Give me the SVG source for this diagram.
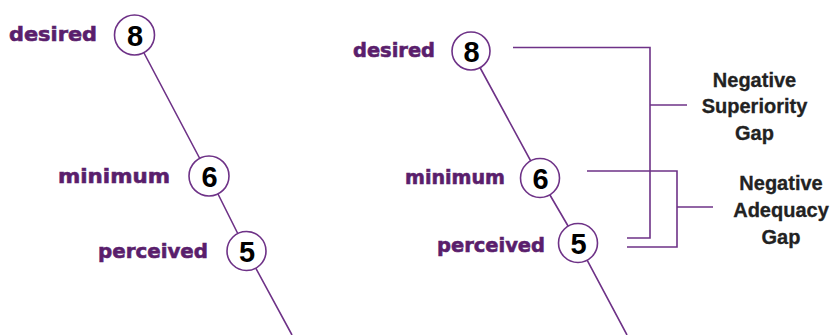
<svg xmlns="http://www.w3.org/2000/svg" width="833" height="335" viewBox="0 0 833 335">
<style>
.lbl{font-family:"DejaVu Sans",Verdana,sans-serif;font-weight:bold;font-size:20px;fill:#5a1e6c;stroke:#5a1e6c;stroke-width:0.6;text-anchor:end}
.num{font-family:"Liberation Sans",Arial,sans-serif;font-weight:bold;font-size:29px;fill:#000;text-anchor:middle}
.gap{font-family:"Liberation Sans",Arial,sans-serif;font-weight:bold;font-size:20px;fill:#222;stroke:#222;stroke-width:0.3;text-anchor:middle}
.ln{stroke:#6e3287;stroke-width:1.6;fill:none}
.cir{fill:#fff;stroke:#6e3287;stroke-width:1.6}
</style>
<g id="connectors">
<polyline class="ln" points="134.5,35 209,176 246.5,251 292,335"/>
<polyline class="ln" points="471,51 540,178 578,243 627,335"/>
<polyline class="ln" points="513,47.5 650,47.5 650,238 627,238"/>
<line class="ln" x1="650" y1="105" x2="687" y2="105"/>
<polyline class="ln" points="587,171 677,171 677,247 627,247"/>
<line class="ln" x1="677" y1="207" x2="713" y2="207"/>
</g>
<g id="left-desired">
<text class="lbl" x="97" y="41" textLength="88" lengthAdjust="spacingAndGlyphs">desired</text>
<circle class="cir" cx="134.5" cy="35" r="20"/>
<text class="num" x="135" y="45.5">8</text>
</g>
<g id="left-minimum">
<text class="lbl" x="170" y="183" textLength="112" lengthAdjust="spacingAndGlyphs">minimum</text>
<circle class="cir" cx="209" cy="176" r="20"/>
<text class="num" x="209.5" y="186.5">6</text>
</g>
<g id="left-perceived">
<text class="lbl" x="208" y="258" textLength="110" lengthAdjust="spacingAndGlyphs">perceived</text>
<circle class="cir" cx="246.5" cy="251" r="19.5"/>
<text class="num" x="247" y="261.5">5</text>
</g>
<g id="right-desired">
<text class="lbl" x="435" y="57" textLength="82" lengthAdjust="spacingAndGlyphs">desired</text>
<circle class="cir" cx="471" cy="51" r="19"/>
<text class="num" x="471.5" y="61.5">8</text>
</g>
<g id="right-minimum">
<text class="lbl" x="505" y="184" textLength="100" lengthAdjust="spacingAndGlyphs">minimum</text>
<circle class="cir" cx="540" cy="178" r="19.5"/>
<text class="num" x="540.5" y="188.5">6</text>
</g>
<g id="right-perceived">
<text class="lbl" x="545" y="252" textLength="108" lengthAdjust="spacingAndGlyphs">perceived</text>
<circle class="cir" cx="578" cy="243" r="19.5"/>
<text class="num" x="578.5" y="253.5">5</text>
</g>
<g id="superiority-gap">
<text class="gap" x="754.5" y="87">Negative</text>
<text class="gap" x="754.5" y="113">Superiority</text>
<text class="gap" x="754.5" y="140">Gap</text>
</g>
<g id="adequacy-gap">
<text class="gap" x="781" y="190">Negative</text>
<text class="gap" x="781" y="217">Adequacy</text>
<text class="gap" x="781" y="244">Gap</text>
</g>
</svg>
